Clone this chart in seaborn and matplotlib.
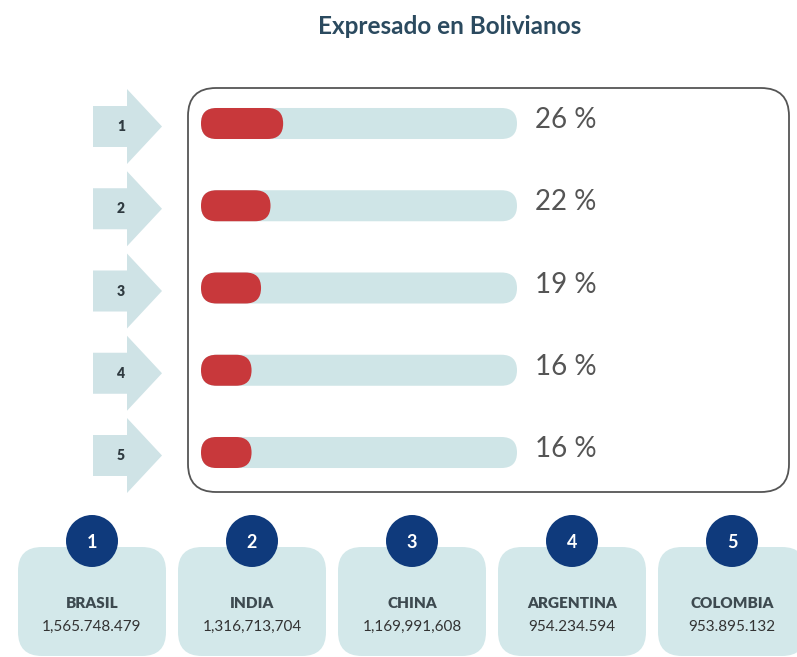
import matplotlib
matplotlib.use("Agg")
import matplotlib.pyplot as plt
import seaborn as sns
import pandas as pd
from matplotlib.patches import FancyBboxPatch, Polygon, Circle
from matplotlib.transforms import IdentityTransform

# ---- data -------------------------------------------------------------
title = "Expresado en Bolivianos"
ranks = ["1", "2", "3", "4", "5"]
shares = [26, 22, 19, 16, 16]
countries = ["BRASIL", "INDIA", "CHINA", "ARGENTINA", "COLOMBIA"]
amounts = ["1,565.748.479", "1,316,713,704", "1,169,991,608",
           "954.234.594", "953.895.132"]

# ---- style ------------------------------------------------------------
RED = "#c8383b"
TRACK = "#cfe5e7"
ARROW = "#cfe3e6"
CARD = "#d3e8ea"
NAVY = "#0f3a7c"
TITLE_C = "#2b4a5f"

sns.set_theme(style="white")
plt.rcParams["font.family"] = ["Lato", "DejaVu Sans"]

W, H = 797, 657
fig = plt.figure(figsize=(W / 100, H / 100), dpi=100)
fig.patch.set_facecolor("white")

# background axes in pixel units for the decorative frame, arrows and cards
bg = fig.add_axes([0, 0, 1, 1])
bg.set_xlim(0, W)
bg.set_ylim(H, 0)
bg.axis("off")

bg.text(450, 26, title, ha="center", va="center", fontsize=17.5,
        fontweight="bold", color=TITLE_C)

# rounded frame around the bar panel
bg.add_patch(FancyBboxPatch((188, 88), 601, 404,
                            boxstyle="round,pad=0,rounding_size=28",
                            fc="white", ec="#555555", lw=1.3, zorder=1))

# ---- bar panel --------------------------------------------------------
step = 82.25
first_center = 123.5
top_px = first_center - step / 2
bx0, bx1 = 201, 517
bar_ax = fig.add_axes([bx0 / W, 1 - (top_px + 5 * step) / H,
                       (bx1 - bx0) / W, 5 * step / H])
bar_ax.set_zorder(3)
bar_ax.patch.set_alpha(0)

df = pd.DataFrame({"rank": ranks, "share": shares, "full": [100] * len(ranks)})
sns.barplot(data=df, x="full", y="rank", orient="h", color=TRACK,
            saturation=1, width=0.377, ax=bar_ax)
sns.barplot(data=df, x="share", y="rank", orient="h", color=RED,
            saturation=1, width=0.377, ax=bar_ax)
bar_ax.set_xlim(0, 100)
bar_ax.set_ylim(len(ranks) - 0.5, -0.5)
bar_ax.set_autoscale_on(False)
bar_ax.axis("off")

# swap the square bars for pill-shaped ones of the same extent
for p in list(bar_ax.patches):
    bb = p.get_bbox().transformed(bar_ax.transData)
    w, h = abs(bb.width), abs(bb.height)
    pill = FancyBboxPatch((bb.xmin, bb.ymin), w, h,
                          boxstyle=f"round,pad=0,rounding_size={h / 2}",
                          fc=p.get_facecolor(), ec="none",
                          transform=IdentityTransform(), zorder=p.get_zorder())
    p.remove()
    bar_ax.add_artist(pill)

for i, s in enumerate(shares):
    bar_ax.text(105.8, i - 0.04, f"{s} %", ha="left", va="center",
                fontsize=20, color="#555555", clip_on=False)

# rank arrows on the left, aligned with each bar
for i, r in enumerate(ranks):
    c = first_center + i * step + 3
    bg.add_patch(Polygon([(93, c - 20.5), (127, c - 20.5), (127, c - 37.5),
                          (162, c), (127, c + 37.5), (127, c + 20.5),
                          (93, c + 20.5)], closed=True, fc=ARROW, ec="none"))
    bg.text(121, c, r, ha="center", va="center", fontsize=10,
            fontweight="heavy", color="#2f3a40")

# ---- country cards ----------------------------------------------------
for i, (r, name, amt) in enumerate(zip(ranks, countries, amounts)):
    cx = 92 + 160 * i
    bg.add_patch(FancyBboxPatch((cx - 74, 547), 148, 109,
                                boxstyle="round,pad=0,rounding_size=24",
                                fc=CARD, ec="none", zorder=1))
    bg.add_patch(Circle((cx, 541), 26, fc=NAVY, ec="none", zorder=2))
    bg.text(cx, 542, r, ha="center", va="center", fontsize=13,
            fontweight="bold", color="white", zorder=3)
    bg.text(cx, 603, name, ha="center", va="center", fontsize=11,
            fontweight="heavy", color="#3d4a50", zorder=3)
    bg.text(cx, 627, amt, ha="center", va="center", fontsize=11,
            color="#333333", zorder=3)

fig.savefig("out.png", dpi=100, facecolor="white")
